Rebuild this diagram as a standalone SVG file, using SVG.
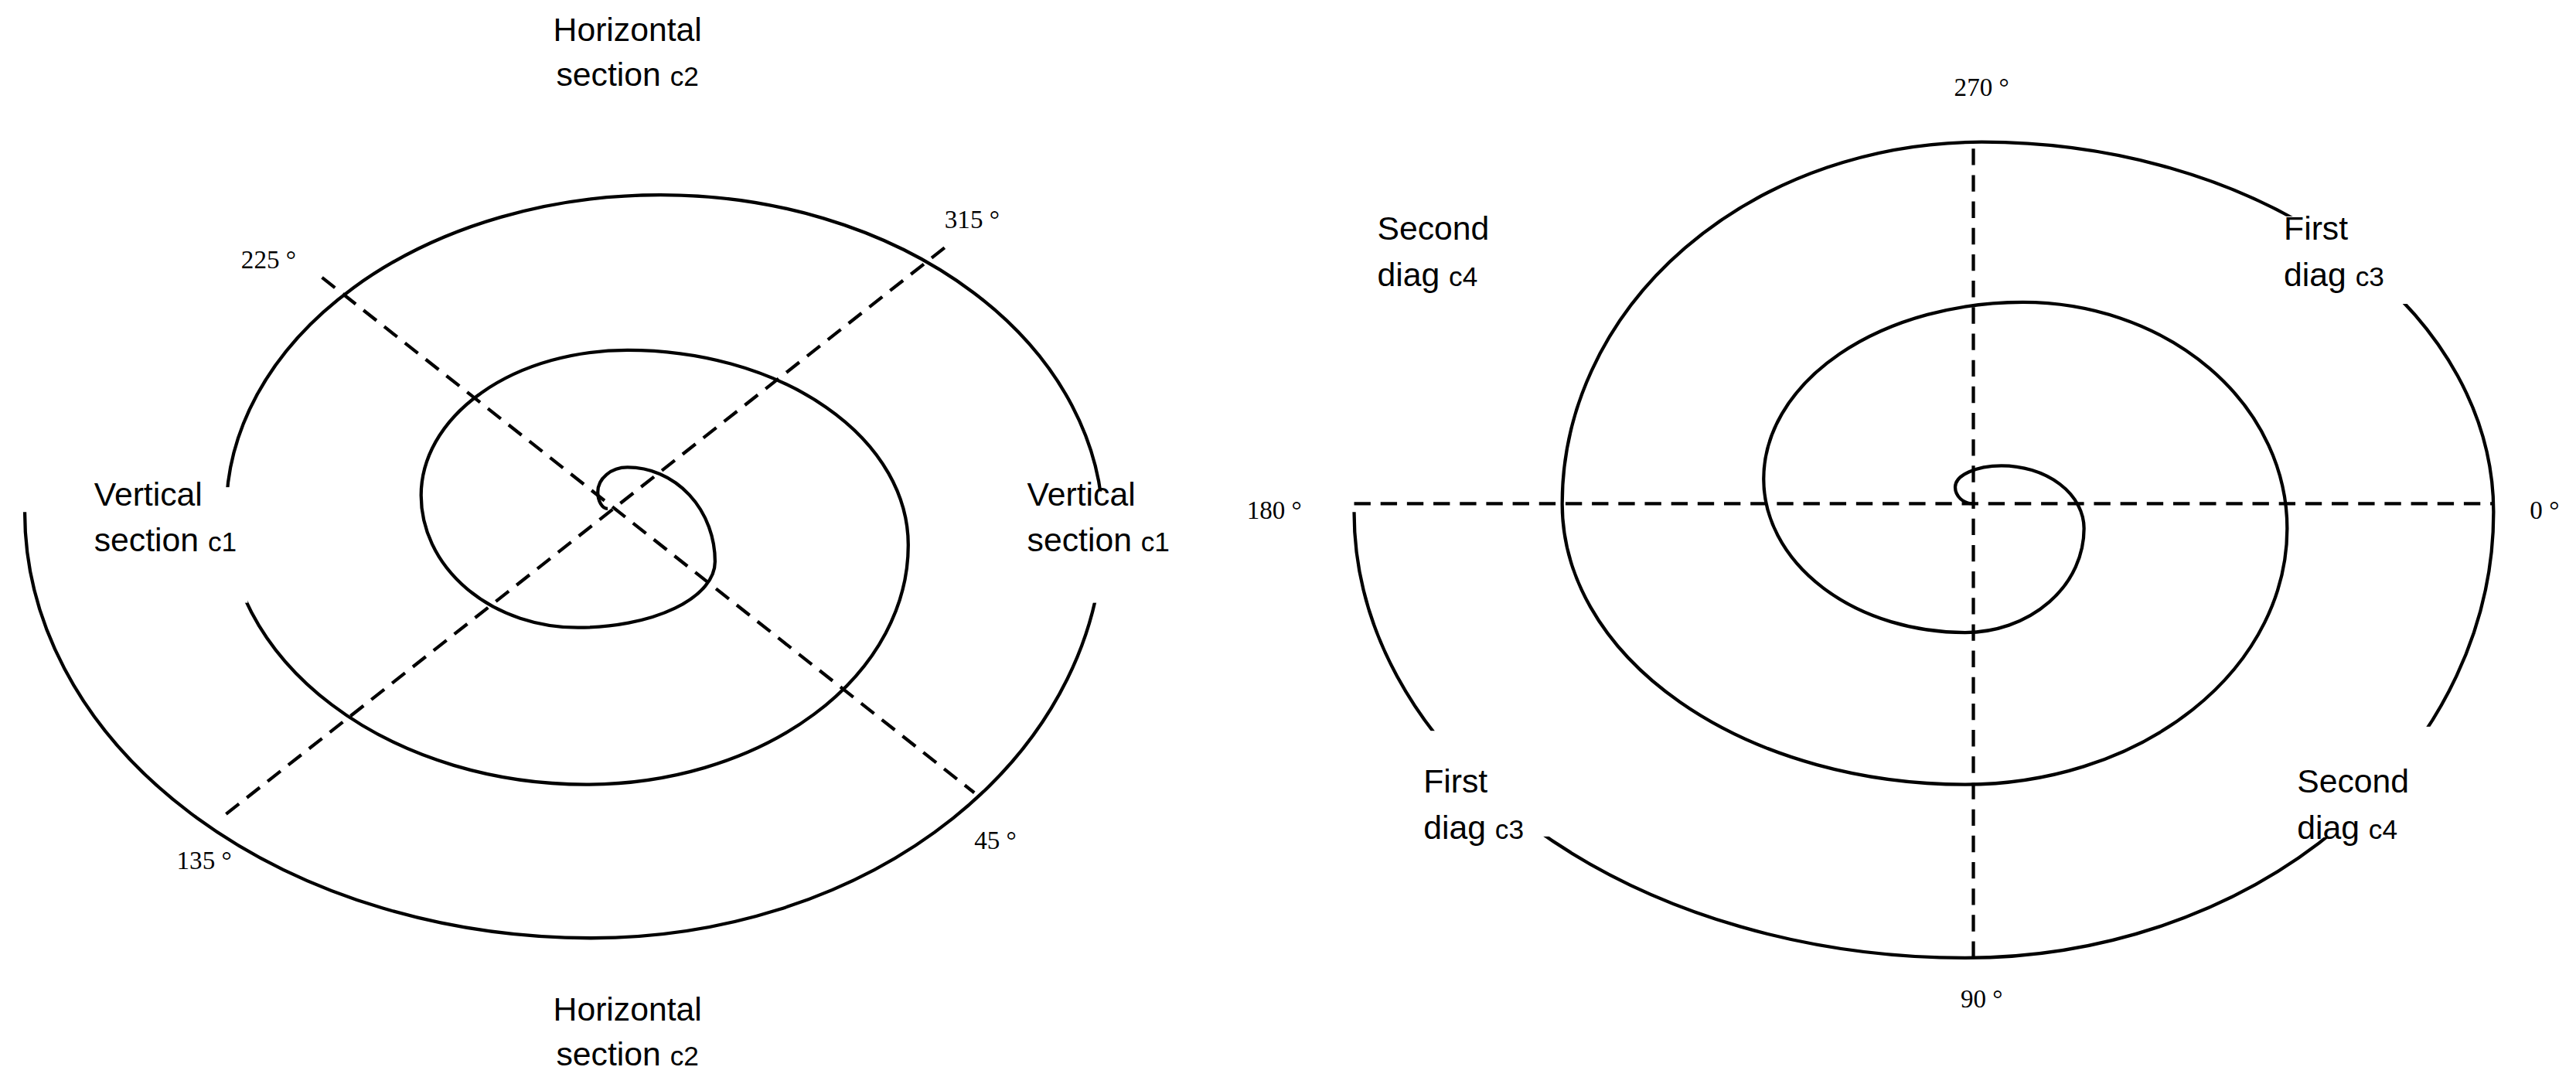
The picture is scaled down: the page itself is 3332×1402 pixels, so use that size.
<svg xmlns="http://www.w3.org/2000/svg" width="3332" height="1402" viewBox="0 0 3332 1402">
<style>
.sp{fill:none;stroke:#000;stroke-width:4}
.da{fill:none;stroke:#000;stroke-width:4;stroke-dasharray:20 12}
.lb{font-family:"Liberation Sans",Arial,sans-serif;font-size:40px;fill:#000}
.sm{font-size:33px}
.dg{font-family:"Liberation Serif","Times New Roman",serif;font-size:31px;fill:#000}
</style>
<defs>
<mask id="mL"><rect x="-100" y="-100" width="3600" height="1600" fill="#fff"/><rect x="250" y="590" width="50" height="140" fill="#000"/><rect x="1305" y="595" width="60" height="135" fill="#000"/></mask>
<mask id="mR"><rect x="-100" y="-100" width="3600" height="1600" fill="#fff"/><rect x="2768" y="262" width="190" height="106" fill="#000"/><rect x="2770" y="880" width="230" height="134" fill="#000"/><rect x="1690" y="885" width="192" height="128" fill="#000"/></mask>
</defs>
<g transform="scale(1.068)">
<g id="connectors">
<line class="da" x1="390" y1="336" x2="1180" y2="960"/>
<line class="da" x1="1144" y1="300" x2="266" y2="992"/>
<line class="da" x1="1640" y1="610" x2="3020" y2="610"/>
<line class="da" x1="2390" y1="180" x2="2390" y2="1160"/>
</g>
<g id="spiral-left">
<path class="sp" mask="url(#mL)" d="M736 616 A12 20 0 0 1 724 596 A36 30 0 0 1 760 566 A106 114 0 0 1 866 680 A166 80 0 0 1 700 760 A190 160 0 0 1 510 600 A250 176 0 0 1 760 424 A340 236 0 0 1 1100 660 A390 290 0 0 1 710 950 A436 330 0 0 1 274 620 A526 384 0 0 1 800 236 A536 404 0 0 1 1336 640 A620 496 0 0 1 716 1136 A686 516 0 0 1 30 620"/>
</g>
<g id="spiral-right">
<path class="sp" mask="url(#mR)" d="M2390 610 A22 20 0 0 1 2368 590 A56 26 0 0 1 2424 564 A100 76 0 0 1 2524 640 A144 126 0 0 1 2380 766 A244 186 0 0 1 2136 580 A314 214 0 0 1 2450 366 A320 274 0 0 1 2770 640 A390 310 0 0 1 2380 950 A488 340 0 0 1 1892 610 A508 438 0 0 1 2400 172 A620 448 0 0 1 3020 620 A640 540 0 0 1 2380 1160 A740 540 0 0 1 1640 620"/>
</g>
<g id="labels-left">
<text class="lb" x="760" y="50" text-anchor="middle">Horizontal</text>
<text class="lb" x="760" y="104" text-anchor="middle">section <tspan class="sm">c2</tspan></text>
<text class="lb" x="760" y="1236" text-anchor="middle">Horizontal</text>
<text class="lb" x="760" y="1290" text-anchor="middle">section <tspan class="sm">c2</tspan></text>
<text class="lb" x="114" y="612">Vertical</text>
<text class="lb" x="114" y="668">section <tspan class="sm">c1</tspan></text>
<text class="lb" x="1244" y="612">Vertical</text>
<text class="lb" x="1244" y="668">section <tspan class="sm">c1</tspan></text>
<text class="dg" x="292" y="325">225 °</text>
<text class="dg" x="1144" y="276">315 °</text>
<text class="dg" x="214" y="1052">135 °</text>
<text class="dg" x="1180" y="1028">45 °</text>
</g>
<g id="labels-right">
<text class="dg" x="2400" y="116" text-anchor="middle">270 °</text>
<text class="dg" x="1510" y="628">180 °</text>
<text class="dg" x="3064" y="628">0 °</text>
<text class="dg" x="2400" y="1220" text-anchor="middle">90 °</text>
<text class="lb" x="1668" y="290">Second</text>
<text class="lb" x="1668" y="346">diag <tspan class="sm">c4</tspan></text>
<text class="lb" x="2766" y="290">First</text>
<text class="lb" x="2766" y="346">diag <tspan class="sm">c3</tspan></text>
<text class="lb" x="1724" y="960">First</text>
<text class="lb" x="1724" y="1016">diag <tspan class="sm">c3</tspan></text>
<text class="lb" x="2782" y="960">Second</text>
<text class="lb" x="2782" y="1016">diag <tspan class="sm">c4</tspan></text>
</g>
</g>
</svg>
